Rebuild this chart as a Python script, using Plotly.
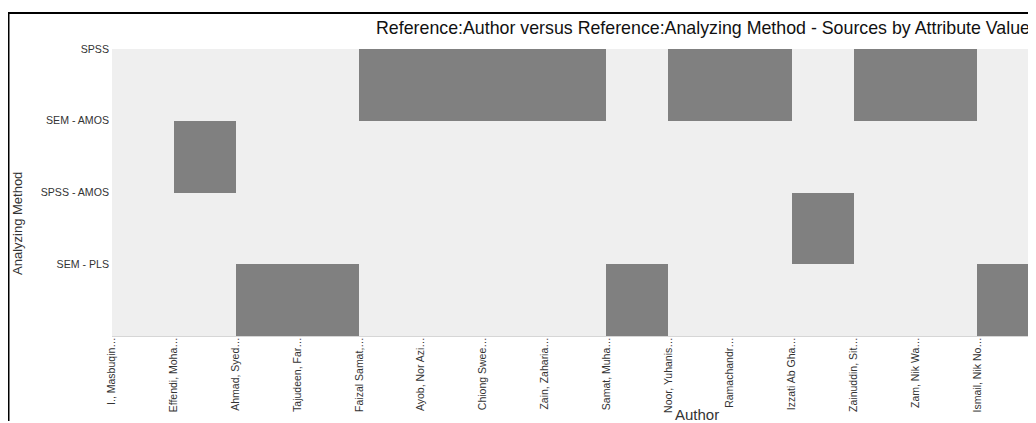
import plotly.graph_objects as go

# ---- data ----
authors = ["I., Masbuqin…", "Effendi, Moha…", "Ahmad, Syed…", "Tajudeen, Far…",
           "Faizal Samat,…", "Ayob, Nor Azi…", "Chiong Swee…", "Zain, Zaharia…",
           "Samat, Muha…", "Noor, Yuhanis…", "Ramachandr…", "Izzati Ab Gha…",
           "Zainuddin, Sit…", "Zam, Nik Wa…", "Ismail, Nik No…"]
methods = ["SPSS", "SEM - AMOS", "SPSS - AMOS", "SEM - PLS"]
author_method = [None, "SEM - AMOS", "SEM - PLS", "SEM - PLS",
                 "SPSS", "SPSS", "SPSS", "SPSS",
                 "SEM - PLS", "SPSS", "SPSS", "SPSS - AMOS",
                 "SPSS", "SPSS", "SEM - PLS"]

z = [[1 if m == meth else 0 for m in author_method] for meth in methods]
xs = list(range(len(authors)))
ys = list(range(len(methods)))

# the page places the figure at (8, 8) because of the default body margin
OFF = 8
W, H = 1036 - OFF, 423 - OFF
L, R, T, B = 112 - OFF, 0, 49 - OFF, 87
pw, ph = W - L - R, H - T - B


def px(sx):
    return (sx - OFF - L) / pw


def py(sy):
    return (H - B - (sy - OFF)) / ph


FONT = "Arial, Liberation Sans, sans-serif"

fig = go.Figure(go.Heatmap(
    x=xs, y=ys, z=z,
    colorscale=[[0, "#efefef"], [1, "#808080"]],
    zmin=0, zmax=1, showscale=False, hoverinfo="skip",
))

fig.update_layout(
    width=W, height=H,
    margin=dict(l=L, r=R, t=T, b=B),
    paper_bgcolor="white", plot_bgcolor="#efefef",
    font=dict(family=FONT, color="#333"),
    title=dict(text="Reference:Author versus Reference:Analyzing Method - Sources by Attribute Value",
               xref="container", yref="container", x=(1030 - OFF) / W, xanchor="right",
               y=1 - (28 - OFF) / H, yanchor="middle",
               font=dict(family=FONT, size=17.8, color="#111")),
    xaxis=dict(range=[-0.5, -0.5 + pw / 61.8], tickmode="array",
               tickvals=[i - 0.5 for i in xs], ticktext=authors,
               tickangle=-90, tickfont=dict(size=10.5, color="#333"),
               ticklabelstandoff=-4,
               showgrid=False, zeroline=False, showline=True,
               linecolor="#d6d6d6", linewidth=1, ticks=""),
    yaxis=dict(range=[len(methods) - 0.5, -0.5], tickmode="array",
               tickvals=[i - 0.5 for i in ys], ticktext=methods,
               tickfont=dict(size=10.6, color="#333"),
               ticklabelstandoff=2,
               showgrid=False, zeroline=False, showline=False, ticks=""),
    annotations=[
        dict(text="Author", xref="paper", yref="paper", x=px(697), y=py(414),
             xanchor="center", yanchor="middle", showarrow=False,
             font=dict(family=FONT, size=15, color="#333")),
        dict(text="Analyzing Method", xref="paper", yref="paper", x=px(17), y=py(224),
             xanchor="center", yanchor="middle", showarrow=False, textangle=-90,
             font=dict(family=FONT, size=13, color="#333")),
    ],
    shapes=[
        dict(type="line", xref="paper", yref="paper", x0=px(8.5), x1=px(8.5),
             y0=py(421), y1=py(13), line=dict(color="black", width=2)),
        dict(type="line", xref="paper", yref="paper", x0=px(8), x1=px(1040),
             y0=py(13), y1=py(13), line=dict(color="black", width=2)),
    ],
)

fig.write_html("out.html")
